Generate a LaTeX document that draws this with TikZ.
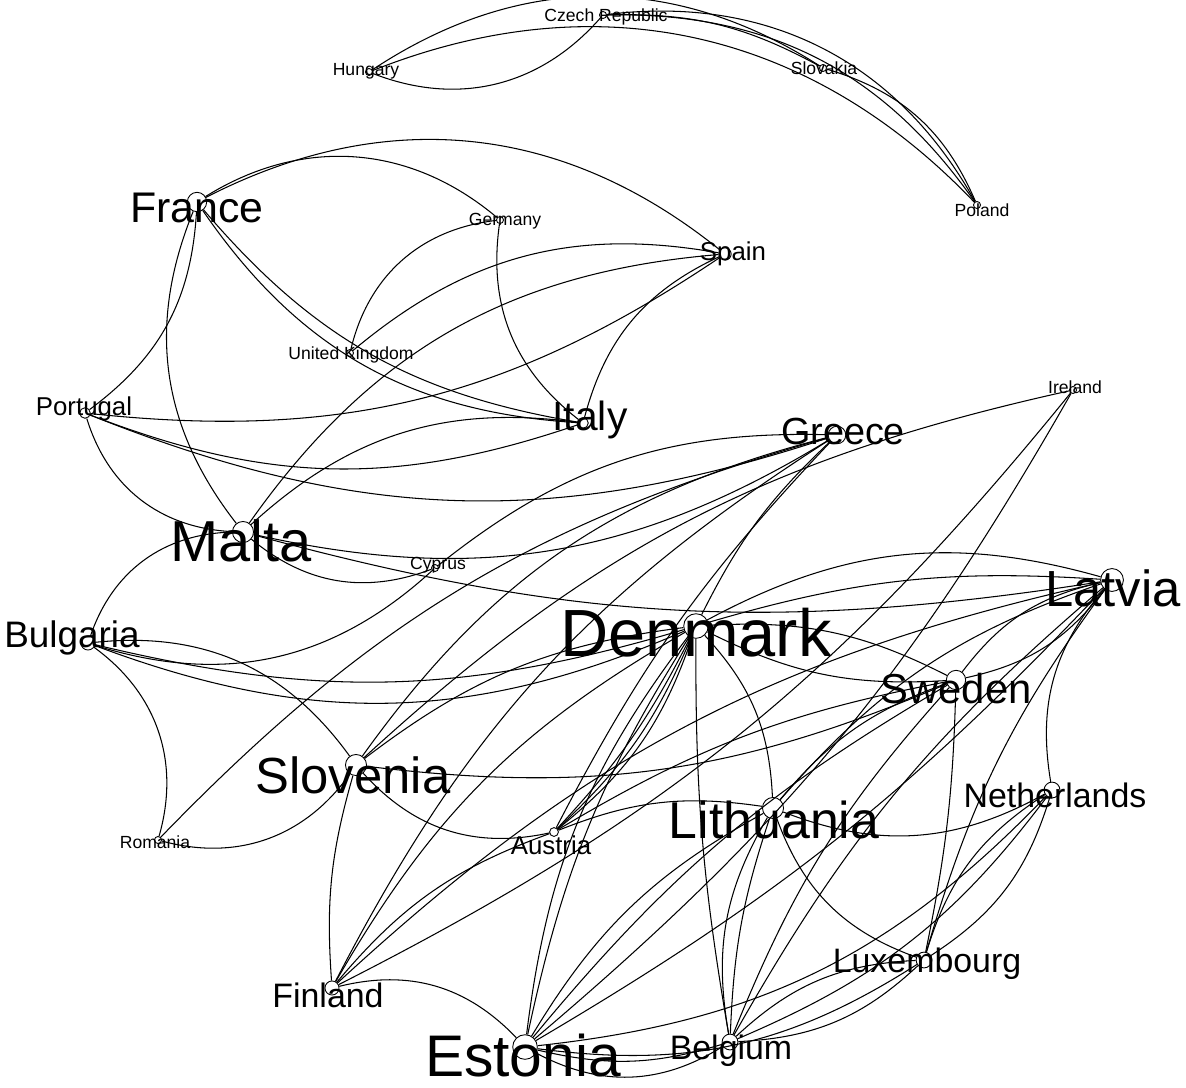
\documentclass[tikz,border=0pt]{standalone}
\usepackage{fontspec}
\setmainfont{Liberation Sans}

\tikzset{
  vtx/.style={circle,draw,line width=0.5pt,inner sep=0pt},
  lbl/.style={inner sep=0pt,text depth=0pt},
  edge/.style={line width=0.6pt}
}
\newcommand{\fsz}[1]{\fontsize{#1}{#1}\selectfont}

\begin{document}
\begin{tikzpicture}[x=0.02cm,y=0.02cm]
\useasboundingbox (0,0) rectangle (1186,-1088);

\node[vtx,minimum size=4] (cz) at (603,-15) {};
\node[vtx,minimum size=4] (hu) at (369,-72) {};
\node[vtx,minimum size=4] (sk) at (823,-68) {};
\node[vtx,minimum size=4] (pl) at (977,-205) {};
\node[vtx,minimum size=11] (fr) at (197,-202) {};
\node[vtx,minimum size=4] (de) at (500,-220) {};
\node[vtx,minimum size=7] (es) at (725,-254) {};
\node[vtx,minimum size=4] (uk) at (350,-353) {};
\node[vtx,minimum size=6] (pt) at (85,-413) {};
\node[vtx,minimum size=6] (it) at (583,-423) {};
\node[vtx,minimum size=10] (gr) at (837,-435) {};
\node[vtx,minimum size=4] (ie) at (1073,-390) {};
\node[vtx,minimum size=12] (mt) at (243,-532) {};
\node[vtx,minimum size=4] (cy) at (435,-568) {};
\node[vtx,minimum size=8] (bg) at (88,-643) {};
\node[vtx,minimum size=13] (lv) at (1112,-580) {};
\node[vtx,minimum size=14] (dk) at (696,-626) {};
\node[vtx,minimum size=11] (se) at (956,-680) {};
\node[vtx,minimum size=12] (si) at (356,-765) {};
\node[vtx,minimum size=9] (nl) at (1052,-790) {};
\node[vtx,minimum size=12] (lt) at (773,-808) {};
\node[vtx,minimum size=5] (at) at (554,-832) {};
\node[vtx,minimum size=4] (ro) at (158,-840) {};
\node[vtx,minimum size=9] (lu) at (924,-960) {};
\node[vtx,minimum size=8] (fi) at (332,-988) {};
\node[vtx,minimum size=14] (ee) at (525,-1047) {};
\node[vtx,minimum size=9] (be) at (730,-1042) {};

\node[lbl,font=\fsz{10}] (cz-l) at (606,-15) {Czech Republic};
\node[lbl,font=\fsz{10}] (hu-l) at (366,-69) {Hungary};
\node[lbl,font=\fsz{10}] (sk-l) at (824,-68) {Slovakia};
\node[lbl,font=\fsz{10}] (pl-l) at (982,-210) {Poland};
\node[lbl,font=\fsz{24.4}] (fr-l) at (197,-208) {France};
\node[lbl,font=\fsz{10}] (de-l) at (505,-219) {Germany};
\node[lbl,font=\fsz{14.7}] (es-l) at (733,-251) {Spain};
\node[lbl,font=\fsz{10}] (uk-l) at (351,-353) {United Kingdom};
\node[lbl,font=\fsz{14.7}] (pt-l) at (84,-406) {Portugal};
\node[lbl,font=\fsz{23.2}] (it-l) at (590,-416) {Italy};
\node[lbl,font=\fsz{21.5}] (gr-l) at (843,-431) {Greece};
\node[lbl,font=\fsz{10}] (ie-l) at (1075,-387) {Ireland};
\node[lbl,font=\fsz{32.9}] (mt-l) at (241,-541) {Malta};
\node[lbl,font=\fsz{10}] (cy-l) at (438,-563) {Cyprus};
\node[lbl,font=\fsz{21}] (bg-l) at (72,-634) {Bulgaria};
\node[lbl,font=\fsz{28.9}] (lv-l) at (1113,-588) {Latvia};
\node[lbl,font=\fsz{38}] (dk-l) at (696,-632) {Denmark};
\node[lbl,font=\fsz{23.8}] (se-l) at (956,-688) {Sweden};
\node[lbl,font=\fsz{28.9}] (si-l) at (353,-775) {Slovenia};
\node[lbl,font=\fsz{19.3}] (nl-l) at (1055,-795) {Netherlands};
\node[lbl,font=\fsz{29.5}] (lt-l) at (774,-820) {Lithuania};
\node[lbl,font=\fsz{14.7}] (at-l) at (551,-845) {Austria};
\node[lbl,font=\fsz{10}] (ro-l) at (155,-842) {Romania};
\node[lbl,font=\fsz{19.3}] (lu-l) at (927,-960) {Luxembourg};
\node[lbl,font=\fsz{19.3}] (fi-l) at (328,-995) {Finland};
\node[lbl,font=\fsz{33.4}] (ee-l) at (523,-1055) {Estonia};
\node[lbl,font=\fsz{19.3}] (be-l) at (731,-1047) {Belgium};

\draw[edge] (hu) to[bend right=35] (cz);
\draw[edge] (hu) to[bend left=33] (sk);
\draw[edge] (hu) to[bend left=34] (pl);
\draw[edge] (cz) to[bend left=15] (sk);
\draw[edge] (cz) to[bend left=34] (pl);
\draw[edge] (cz) to[bend left=28] (pl);
\draw[edge] (sk) to[bend left=25] (pl);

\draw[edge] (fr) to[bend left=33] (es);
\draw[edge] (fr) to[bend left=36] (de);
\draw[edge] (fr) to[bend right=20] (it);
\draw[edge] (fr) to[bend right=26] (it);
\draw[edge] (fr) to[bend left=25] (pt);
\draw[edge] (fr) to[bend right=30] (mt);
\draw[edge] (de) to[bend right=35] (uk);
\draw[edge] (de) to[bend right=30] (it);
\draw[edge] (uk) to[bend left=25] (es);
\draw[edge] (mt) to[bend left=25] (es);
\draw[edge] (mt) to[bend left=25] (it);
\draw[edge] (es) to[bend right=25] (it);
\draw[edge] (es) to[bend left=20] (pt);
\draw[edge] (pt) to[bend right=20] (it);
\draw[edge] (pt) to[bend right=20] (gr);
\draw[edge] (pt) to[bend right=35] (mt);
\draw[edge] (mt) to[bend right=22] (gr);
\draw[edge] (mt) to[bend right=30] (cy);
\draw[edge] (mt) to[bend right=12] (lv);
\draw[edge] (bg) to[bend left=35] (mt);
\draw[edge] (cy) to[bend left=20] (gr);
\draw[edge] (bg) to[bend right=30] (cy);
\draw[edge] (bg) to[bend left=30] (si);
\draw[edge] (bg) to[bend left=35] (ro);
\draw[edge] (bg) to[bend right=15] (dk);
\draw[edge] (bg) to[bend right=22] (dk);
\draw[edge] (ro) to[bend right=35] (si);
\draw[edge] (ro) to[bend left=15] (gr);
\draw[edge] (si) to[bend left=20] (gr);
\draw[edge] (ie) to[bend right=15] (si);
\draw[edge] (si) to[bend right=15] (se);
\draw[edge] (si) to[bend left=15] (dk);
\draw[edge] (si) to[bend right=30] (at);
\draw[edge] (fi) to[bend left=10] (si);

\draw[edge] (dk) to[bend left=8] (at);
\draw[edge] (dk) to[bend left=12] (at);
\draw[edge] (dk) to[bend left=16] (at);
\draw[edge] (dk) to[bend left=20] (lt);
\draw[edge] (dk) to[bend right=5] (be);
\draw[edge] (dk) to[bend left=15] (se);
\draw[edge] (dk) to[bend right=15] (se);
\draw[edge] (dk) to[bend left=22] (lv);
\draw[edge] (dk) to[bend left=10] (lv);
\draw[edge] (fi) to[bend left=15] (gr);
\draw[edge] (fi) to[bend left=15] (dk);
\draw[edge] (fi) to[bend left=15] (lv);
\draw[edge] (fi) to[bend left=15] (at);
\draw[edge] (fi) to[bend left=30] (ee);
\draw[edge] (ee) to[bend left=10] (dk);
\draw[edge] (ee) to[bend left=15] (dk);
\draw[edge] (ee) to[bend right=15] (be);
\draw[edge] (ee) to[bend right=30] (be);
\draw[edge] (ee) to[bend right=20] (lu);
\draw[edge] (ee) to[bend right=20] (nl);
\draw[edge] (ee) to[bend left=15] (lt);
\draw[edge] (ee) to[bend left=10] (se);
\draw[edge] (ee) to[bend right=8] (lv);
\draw[edge] (lt) to[bend right=20] (be);
\draw[edge] (lt) to[bend right=8] (be);
\draw[edge] (lt) to[bend right=25] (lu);
\draw[edge] (lt) to[bend right=25] (nl);
\draw[edge] (lt) to[bend right=15] (at);
\draw[edge] (lt) to[bend left=15] (se);
\draw[edge] (lt) to[bend left=15] (lv);
\draw[edge] (se) to[bend left=20] (lv);
\draw[edge] (se) to[bend right=20] (lv);
\draw[edge] (se) to[bend right=10] (be);
\draw[edge] (se) to[bend left=5] (lu);
\draw[edge] (se) to[bend right=10] (at);
\draw[edge] (lv) to[bend right=25] (nl);
\draw[edge] (lv) to[bend right=10] (be);
\draw[edge] (lv) to[bend right=10] (lu);
\draw[edge] (nl) to[bend left=20] (lu);
\draw[edge] (nl) to[bend right=20] (lu);
\draw[edge] (nl) to[bend left=15] (be);
\draw[edge] (lu) to[bend right=20] (be);
\draw[edge] (lu) to[bend left=20] (be);
\draw[edge] (gr) to[bend right=10] (dk);
\draw[edge] (gr) to[bend right=8] (at);
\draw[edge] (ie) to[bend left=12] (fi);
\draw[edge] (ie) to[bend left=10] (ee);
\end{tikzpicture}
\end{document}
